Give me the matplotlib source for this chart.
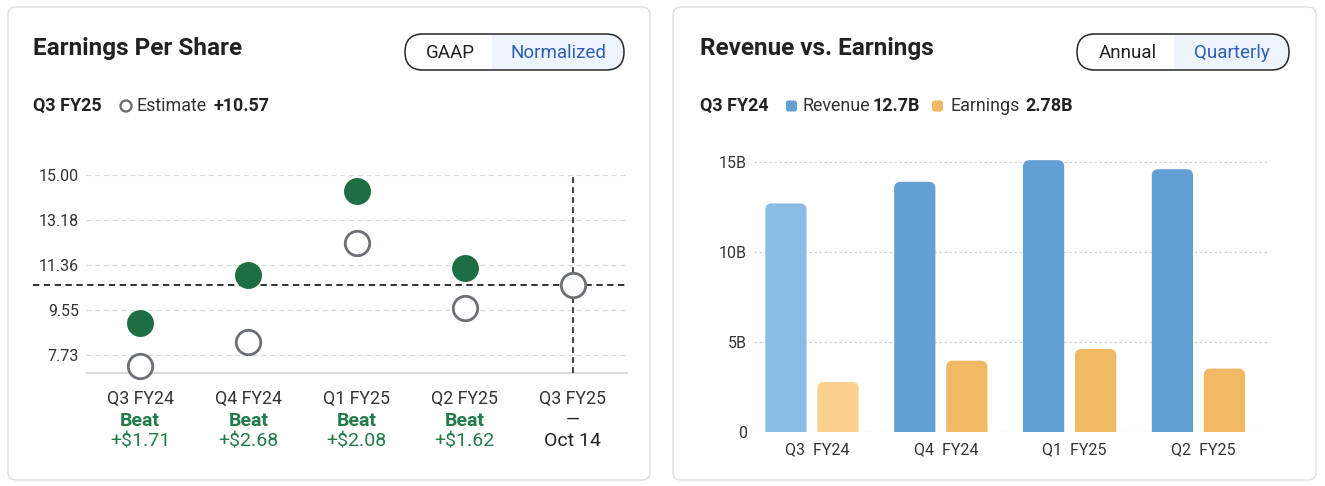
"""EPS estimate/actual dots and quarterly revenue vs earnings bars, card layout."""
import matplotlib

matplotlib.use("Agg")
import matplotlib.pyplot as plt
import matplotlib.transforms as mtransforms
from matplotlib.patches import FancyBboxPatch, Rectangle, Circle

W, H = 1325, 486

# ---- data -------------------------------------------------------------
eps_quarters = ["Q3 FY24", "Q4 FY24", "Q1 FY25", "Q2 FY25", "Q3 FY25"]
eps_estimate = [7.29, 8.27, 12.27, 9.61, 10.57]
eps_actual = [9.00, 10.95, 14.35, 11.23]
eps_surprise = ["+$1.71", "+$2.68", "+$2.08", "+$1.62"]
eps_ticks = [7.73, 9.55, 11.36, 13.18, 15.00]
next_report = "Oct 14"

rev_quarters = ["Q3  FY24", "Q4  FY24", "Q1  FY25", "Q2  FY25"]
revenue = [12.7, 13.9, 15.1, 14.6]
earnings = [2.78, 3.96, 4.61, 3.52]
rev_ticks = [0, 5, 10, 15]
rev_tick_labels = ["0", "5B", "10B", "15B"]

# ---- style ------------------------------------------------------------
BODY = ["Roboto", "DejaVu Sans"]
DARK = "#222222"
GREY_TXT = "#333333"
GREEN = "#1e6e43"
GREEN_TXT = "#237a4b"
RING = "#6c6f76"
BLUE_TXT = "#2c5fb5"
PILL_FILL = "#edf4fd"
REV_HI, REV = "#89bce6", "#62a0d4"
ERN_HI, ERN = "#fcd08f", "#f1b963"
SUB = 12.9

plt.rcParams["font.family"] = BODY

fig = plt.figure(figsize=(W / 100, H / 100), dpi=100)
bg = fig.add_axes([0, 0, 1, 1], zorder=0)
bg.set_xlim(0, W)
bg.set_ylim(H, 0)
bg.axis("off")


def px_axes(x0, y0, x1, y1):
    a = fig.add_axes([x0 / W, 1 - y1 / H, (x1 - x0) / W, (y1 - y0) / H], zorder=2)
    a.set_facecolor("none")
    return a


def card(x0, y0, x1, y1):
    bg.add_patch(FancyBboxPatch((x0, y0), x1 - x0, y1 - y0,
                                boxstyle="round,pad=0,rounding_size=8",
                                fc="white", ec="#dedede", lw=1.0))


def pill(x0, x1, xm, left, right, y0=34, h=36):
    shape = FancyBboxPatch((x0, y0), x1 - x0, h,
                           boxstyle=f"round,pad=0,rounding_size={h / 2}",
                           fc="white", ec="none")
    bg.add_patch(shape)
    fill = Rectangle((xm, y0), x1 - xm, h, fc=PILL_FILL, ec="none")
    bg.add_patch(fill)
    fill.set_clip_path(shape)
    bg.add_patch(FancyBboxPatch((x0, y0), x1 - x0, h,
                                boxstyle=f"round,pad=0,rounding_size={h / 2}",
                                fc="none", ec="#262626", lw=1.1))
    yc = y0 + h / 2 + 1
    bg.text((x0 + xm) / 2 + 2, yc, left, ha="center", va="center",
            fontsize=13.5, color=DARK)
    bg.text((xm + x1) / 2, yc, right, ha="center", va="center",
            fontsize=13.5, color=BLUE_TXT)


card(8, 7, 650, 480)
card(673, 7, 1316, 480)

bg.text(33, 49, "Earnings Per Share", fontsize=17.5, fontweight="bold",
        color=DARK, va="center")
bg.text(700, 49, "Revenue vs. Earnings", fontsize=17.5, fontweight="bold",
        color=DARK, va="center")
pill(405, 624, 492, "GAAP", "Normalized")
pill(1077, 1289, 1174, "Annual", "Quarterly")

# sub headers
sy = 106
bg.text(33, sy, eps_quarters[-1], fontsize=SUB, fontweight="bold", color=DARK, va="center")
bg.add_patch(Circle((126, sy), 5.5, fc="white", ec=RING, lw=1.7))
bg.text(137, sy, "Estimate", fontsize=SUB, color=GREY_TXT, va="center")
bg.text(214, sy, f"+{eps_estimate[-1]:.2f}", fontsize=SUB, fontweight="bold",
        color=DARK, va="center")

bg.text(700, sy, rev_quarters[0].replace("  ", " "), fontsize=SUB, fontweight="bold",
        color=DARK, va="center")
bg.add_patch(FancyBboxPatch((786, sy - 5.5), 11, 11, boxstyle="round,pad=0,rounding_size=2.5",
                            fc=REV, ec="none"))
bg.text(803, sy, "Revenue", fontsize=SUB, color=GREY_TXT, va="center")
bg.text(873, sy, f"{revenue[0]}B", fontsize=SUB, fontweight="bold", color=DARK, va="center")
bg.add_patch(FancyBboxPatch((932, sy - 5.5), 11, 11, boxstyle="round,pad=0,rounding_size=2.5",
                            fc=ERN, ec="none"))
bg.text(950, sy, "Earnings", fontsize=SUB, color=GREY_TXT, va="center")
bg.text(1025, sy, f"{earnings[0]}B", fontsize=SUB, fontweight="bold", color=DARK, va="center")

# ---- EPS panel --------------------------------------------------------
ax = px_axes(86, 175, 627, 373)
ax.set_xlim(-0.5, 4.5)
ax.set_ylim(7.0, 15.0)
for s in ("top", "right", "left"):
    ax.spines[s].set_visible(False)
ax.spines["bottom"].set_color("#d3d3d3")
ax.spines["bottom"].set_linewidth(1.2)
ax.set_xticks([])
ax.set_yticks(eps_ticks, [f"{t:.2f}" for t in eps_ticks])
ax.tick_params(axis="y", length=0, pad=5, labelsize=11.5, labelcolor=GREY_TXT)
ax.grid(axis="y", color="#d8d8d8", lw=0.9, linestyle=(0, (4, 3)))

xs = list(range(len(eps_quarters)))
ax.axhline(eps_estimate[-1], xmin=-0.098, xmax=1.0, color="#222222", lw=1.3,
           linestyle=(0, (3.5, 2.5)), clip_on=False, zorder=3)
ax.vlines(xs[-1], 7.0, 15.0, color="#222222", lw=1.2, linestyle=(0, (3.5, 2.5)), zorder=3)
ax.plot(xs, eps_estimate, "o", ms=17.6, mfc="white", mec=RING, mew=2.0,
        ls="none", clip_on=False, zorder=4)
ax.plot(xs[:len(eps_actual)], eps_actual, "o", ms=19.4, mfc=GREEN, mec="none",
        ls="none", clip_on=False, zorder=4)

lab = mtransforms.blended_transform_factory(ax.transData, bg.transData)
for i, q in enumerate(eps_quarters):
    ax.text(i, 399, q, transform=lab, ha="center", va="center", fontsize=12.8, color=GREY_TXT)
    if i < len(eps_surprise):
        ax.text(i, 421, "Beat", transform=lab, ha="center", va="center",
                fontsize=14, fontweight="bold", color=GREEN_TXT)
        ax.text(i, 441, eps_surprise[i], transform=lab, ha="center", va="center",
                fontsize=14, color=GREEN_TXT)
    else:
        ax.text(i, 420, "\u2014", transform=lab, ha="center", va="center",
                fontsize=12.8, color=DARK)
        ax.text(i, 441, next_report, transform=lab, ha="center", va="center",
                fontsize=14, color=DARK)

# ---- revenue vs earnings panel ---------------------------------------
bx = px_axes(754, 153, 1268, 432)
bx.set_xlim(-0.45, 3.54)
bx.set_ylim(0, 15.5)
for s in bx.spines.values():
    s.set_visible(False)
bx.set_axisbelow(True)
bx.grid(axis="y", color="#d3d3d3", lw=0.9, linestyle=(0, (2, 2)))
bx.set_yticks(rev_ticks, rev_tick_labels)
bx.set_xticks(range(len(rev_quarters)), rev_quarters)
bx.tick_params(length=0, labelsize=11.5, labelcolor=GREY_TXT)
bx.tick_params(axis="y", pad=5)
bx.tick_params(axis="x", pad=7)
nudge = mtransforms.ScaledTranslation(5 / 100, 0, fig.dpi_scale_trans)
for t in bx.get_xticklabels():
    t.set_transform(t.get_transform() + nudge)

bw, off = 0.32, 0.202
gx = list(range(len(rev_quarters)))
rev_bars = bx.bar([g - off for g in gx], revenue, bw,
                  color=[REV_HI] + [REV] * (len(revenue) - 1))
ern_bars = bx.bar([g + off for g in gx], earnings, bw,
                  color=[ERN_HI] + [ERN] * (len(earnings) - 1))

# swap plain bars for top-rounded ones (bottom corners hidden below the axis)
px_x = (3.54 + 0.45) / (1268 - 754)
px_y = 15.5 / (432 - 153)
for b in list(rev_bars) + list(ern_bars):
    x0, w, h = b.get_x(), b.get_width(), b.get_height()
    rb = FancyBboxPatch((x0, -1.0), w, h + 1.0,
                        boxstyle=f"round,pad=0,rounding_size={6.5 * px_x}",
                        mutation_aspect=px_y / px_x,
                        fc=b.get_facecolor(), ec="none", zorder=2)
    bx.add_patch(rb)
    b.remove()

fig.savefig("out.png", dpi=100, facecolor="white")
